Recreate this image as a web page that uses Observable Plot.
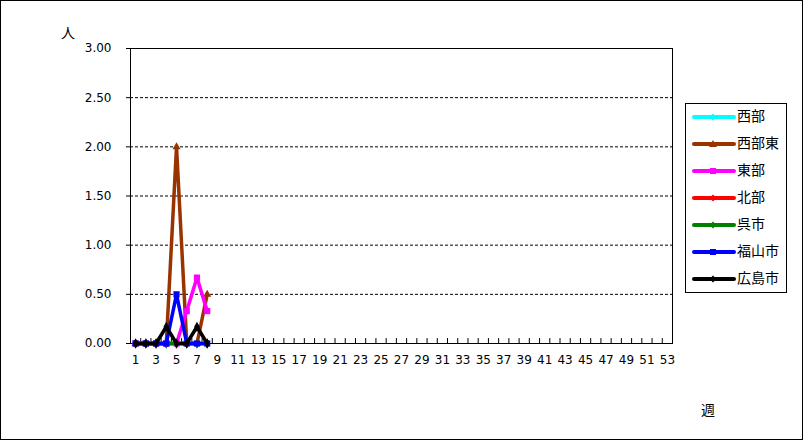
<!DOCTYPE html>
<html>
<head>
<meta charset="utf-8">
<script src="https://cdn.jsdelivr.net/npm/d3@7"></script>
<script src="https://cdn.jsdelivr.net/npm/@observablehq/plot@0.6"></script>
<style>
  html, body { margin: 0; padding: 0; background: #fff; }
  #wrap { position: relative; width: 803px; height: 440px; overflow: hidden; background: #fff; }
  #border { position: absolute; left: 0; top: 0; width: 803px; height: 440px; box-sizing: border-box; border: 1px solid #000; pointer-events: none; }
  #chart { position: absolute; left: 0; top: 0; }
  .atitle { position: absolute; font-family: "Noto Sans CJK JP", sans-serif; font-size: 14px; line-height: 1; transform: translate(-50%, -50%); }
  #legend { position: absolute; left: 685px; top: 103px; width: 102px; height: 190px; box-sizing: border-box; border: 1px solid #000; background: #fff; }
  .li { position: absolute; left: 0; height: 20px; width: 100px; }
  .li svg { position: absolute; left: 6px; top: 5px; }
  .li span { position: absolute; left: 51px; top: 0; font-family: "Noto Sans CJK JP", sans-serif; font-size: 14px; line-height: 20px; white-space: nowrap; }
</style>
</head>
<body>
<div id="wrap">
  <div id="chart"></div>
  <div class="atitle" style="left:68px; top:32px;">人</div>
  <div class="atitle" style="left:708px; top:409px;">週</div>
  <div id="legend"></div>
  <div id="border"></div>
</div>
<script>
// ---- data ----
const weeks = [1, 2, 3, 4, 5, 6, 7, 8];
const seriesNames = ["西部", "西部東", "東部", "北部", "呉市", "福山市", "広島市"];
const seriesColors = ["#00FFFF", "#993300", "#FF00FF", "#FF0000", "#008000", "#0000FF", "#000000"];
const seriesSymbols = ["diamond", "triangle", "square", "diamond", "diamond", "square", "diamond"];
const v_seibu     = [0, 0, 0, 0, 0, 0, 0, 0];
const v_seibuHigashi = [0, 0, 0, 0, 2.0, 0, 0, 0.5];
const v_toubu     = [0, 0, 0, 0, 0, 0.33, 0.67, 0.33];
const v_hokubu    = [0, 0, 0, 0, 0, 0, 0, 0];
const v_kure      = [0, 0, 0, 0, 0, 0, 0, 0];
const v_fukuyama  = [0, 0, 0, 0, 0.5, 0, 0, 0];
const v_hiroshima = [0, 0, 0, 0.17, 0, 0, 0.17, 0];
const seriesValues = [v_seibu, v_seibuHigashi, v_toubu, v_hokubu, v_kure, v_fukuyama, v_hiroshima];
const yTicks = [0, 0.5, 1.0, 1.5, 2.0, 2.5, 3.0];
const xLabels = d3.range(1, 54, 2);
const allWeeks = d3.range(1, 54);

// ---- build ----
const rows = [];
seriesNames.forEach((name, i) => {
  weeks.forEach((w, j) => rows.push({series: name, idx: i, week: w, value: seriesValues[i][j]}));
});
const boundaries = allWeeks.map(w => w + 0.5);

const marks = [
  Plot.ruleY(yTicks.filter(v => v > 0 && v < 3), {y: d => d, stroke: "#000", strokeWidth: 1, strokeDasharray: "3,2"}),
  Plot.ruleX(boundaries, {x: d => d, y1: 0, y2: 0.05, stroke: "#000", strokeWidth: 1}),
  Plot.frame({stroke: "#000", strokeWidth: 1}),
  Plot.axisY({ticks: yTicks, tickFormat: d3.format(".2f"), tickSize: 4, tickPadding: 15, fontSize: 12, label: null}),
  Plot.axisX({ticks: xLabels, tickFormat: d => String(d), tickSize: 0, tickPadding: 12, fontSize: 12, label: null})
];
seriesNames.forEach((name, i) => {
  const d = rows.filter(r => r.idx === i);
  marks.push(Plot.line(d, {x: "week", y: "value", stroke: seriesColors[i], strokeWidth: 3.5}));
  marks.push(Plot.dot(d, {x: "week", y: "value", fill: seriesColors[i], stroke: "none",
    symbol: seriesSymbols[i], r: seriesSymbols[i] === "square" ? 3.5 : 3}));
});

const chart = Plot.plot({
  width: 803,
  height: 440,
  marginLeft: 130,
  marginRight: 131,
  marginTop: 48,
  marginBottom: 97,
  style: {fontFamily: "'DejaVu Sans', sans-serif", fontSize: "12px", background: "transparent", color: "#000"},
  x: {type: "linear", domain: [0.5, 53.5]},
  y: {domain: [0, 3]},
  marks
});
document.getElementById("chart").appendChild(chart);

// ---- legend ----
const legend = document.getElementById("legend");
seriesNames.forEach((name, i) => {
  const item = document.createElement("div");
  item.className = "li";
  item.style.top = (3 + i * 27) + "px";
  const sym = seriesSymbols[i];
  let m;
  if (sym === "square") m = `<rect x="18" y="2" width="6" height="6" fill="${seriesColors[i]}"/>`;
  else if (sym === "triangle") m = `<path d="M21,1 L25,8 L17,8 Z" fill="${seriesColors[i]}"/>`;
  else m = `<path d="M21,1.5 L24.5,5 L21,8.5 L17.5,5 Z" fill="${seriesColors[i]}"/>`;
  item.innerHTML = `<svg width="44" height="10"><line x1="2" y1="5" x2="42" y2="5" stroke="${seriesColors[i]}" stroke-width="4" stroke-linecap="round"/>${m}</svg><span style="top:-2px">${name}</span>`;
  legend.appendChild(item);
});
</script>
</body>
</html>
